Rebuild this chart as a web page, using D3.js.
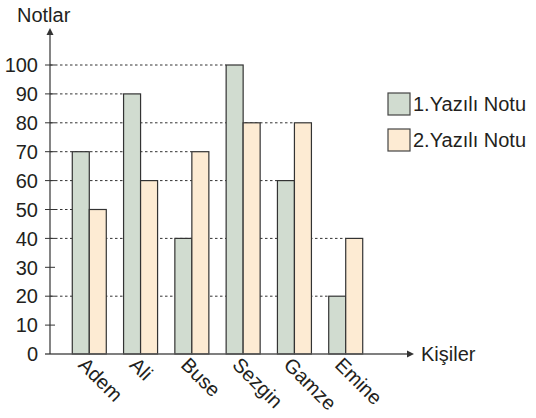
<!DOCTYPE html>
<html>
<head>
<meta charset="utf-8">
<script src="https://cdn.jsdelivr.net/npm/d3@7"></script>
<style>
  html, body { margin: 0; padding: 0; background: #fff; }
  text { font-family: "Liberation Sans", Arial, sans-serif; fill: #231f20; }
</style>
</head>
<body>
<svg id="chart" width="536" height="418"></svg>
<script>
const categories = ["Adem", "Ali", "Buse", "Sezgin", "Gamze", "Emine"];
const series1 = [70, 90, 40, 100, 60, 20];
const series2 = [50, 60, 70, 80, 80, 40];
const seriesNames = ["1.Yazılı Notu", "2.Yazılı Notu"];
const yTicks = [0, 10, 20, 30, 40, 50, 60, 70, 80, 90, 100];
const colors = ["#d1dcd0", "#fdebd3"];

const svg = d3.select("#chart");
const axisX = 50, baseY = 354;

const x = d3.scaleBand().domain(categories).range([55, 380]).paddingInner(0.337).paddingOuter(0.337);
const y = d3.scaleLinear().domain([0, 100]).range([baseY, 65]);
const xs = d3.scaleBand().domain([0, 1]).range([0, x.bandwidth()]);

const data = [];
categories.forEach((c, i) => {
  [series1[i], series2[i]].forEach((v, s) => data.push({ c, s, v }));
});

// gridlines: from axis to the left edge of the last bar with that value
const gridVals = Array.from(new Set(data.map(d => d.v))).filter(v => v > 0);
const grid = svg.append("g");
gridVals.forEach(v => {
  const xEnd = d3.max(data.filter(d => d.v === v), d => x(d.c) + xs(d.s));
  grid.append("line")
    .attr("x1", axisX).attr("x2", xEnd)
    .attr("y1", y(v)).attr("y2", y(v))
    .attr("stroke", "#333").attr("stroke-width", 1)
    .attr("stroke-dasharray", "2.5,2.5");
});

// bars
svg.append("g").selectAll("rect").data(data).join("rect")
  .attr("x", d => x(d.c) + xs(d.s))
  .attr("y", d => y(d.v))
  .attr("width", xs.bandwidth())
  .attr("height", d => baseY - y(d.v))
  .attr("fill", d => colors[d.s])
  .attr("stroke", "#333").attr("stroke-width", 1.2);

// x axis line with arrow
svg.append("line").attr("x1", 45).attr("x2", 410).attr("y1", baseY).attr("y2", baseY)
  .attr("stroke", "#555").attr("stroke-width", 1.3);
svg.append("path").attr("d", `M414,${baseY} L407,${baseY - 3.5} L407,${baseY + 3.5} Z`).attr("fill", "#333");

// y axis line with arrow
svg.append("line").attr("x1", axisX).attr("x2", axisX).attr("y1", baseY).attr("y2", 33)
  .attr("stroke", "#333").attr("stroke-width", 1.2);
svg.append("path").attr("d", `M${axisX},28 L${axisX - 3.5},35 L${axisX + 3.5},35 Z`).attr("fill", "#333");

// y ticks and labels
const yt = svg.append("g");
yTicks.forEach(t => {
  if (t > 0) {
    yt.append("line").attr("x1", 45).attr("x2", 55).attr("y1", y(t)).attr("y2", y(t))
      .attr("stroke", "#333").attr("stroke-width", 1);
  }
  yt.append("text").attr("x", 38).attr("y", y(t)).attr("dy", "0.36em")
    .attr("text-anchor", "end").attr("font-size", 20).text(t);
});

// x labels rotated
svg.append("g").selectAll("text").data(categories).join("text")
  .attr("transform", d => `translate(${x(d) + x.bandwidth() / 2 - 12},366) rotate(45)`)
  .attr("font-size", 20).text(d => d);

// axis titles
svg.append("text").attr("x", 17).attr("y", 22).attr("font-size", 20).text("Notlar");
svg.append("text").attr("x", 421).attr("y", baseY).attr("dy", "0.36em").attr("font-size", 20).text("Kişiler");

// legend
const lg = svg.append("g");
seriesNames.forEach((n, i) => {
  const ly = 93 + i * 36;
  lg.append("rect").attr("x", 388).attr("y", ly).attr("width", 22).attr("height", 22)
    .attr("fill", colors[i]).attr("stroke", "#444").attr("stroke-width", 1.2);
  lg.append("text").attr("x", 413).attr("y", ly + 11).attr("dy", "0.36em")
    .attr("font-size", 20).text(n);
});
</script>
</body>
</html>
